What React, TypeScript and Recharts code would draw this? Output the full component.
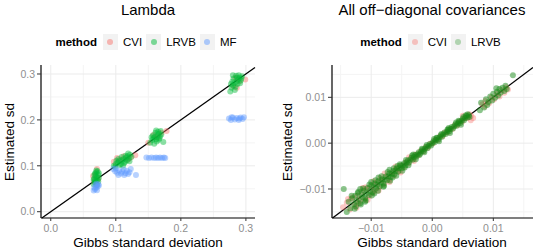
import React from 'react';
import { ScatterChart, Scatter, XAxis, YAxis, CartesianGrid, ReferenceLine } from 'recharts';

const FONT = '"Liberation Sans", Arial, Helvetica, sans-serif';

// ---------- Lambda panel data ----------
const lambdaCVI: [number, number][] = [
  [0.065, 0.078], [0.071, 0.093], [0.069, 0.082], [0.073, 0.071], [0.066, 0.066],
  [0.097, 0.109], [0.102, 0.117], [0.107, 0.113], [0.112, 0.121], [0.119, 0.114], [0.130, 0.123], [0.123, 0.118],
  [0.150, 0.150], [0.158, 0.167], [0.164, 0.162], [0.170, 0.172], [0.178, 0.176],
  [0.281, 0.274], [0.286, 0.270], [0.290, 0.284], [0.299, 0.288], [0.284, 0.292],
];
const lambdaLRVB: [number, number][] = [
  [0.066, 0.060], [0.068, 0.064], [0.070, 0.067], [0.072, 0.070], [0.067, 0.072], [0.071, 0.075], [0.069, 0.078],
  [0.073, 0.080], [0.068, 0.083], [0.070, 0.086], [0.072, 0.088], [0.066, 0.070], [0.074, 0.074], [0.069, 0.062],
  [0.071, 0.058], [0.073, 0.066], [0.067, 0.080], [0.070, 0.090], [0.074, 0.084], [0.068, 0.068],
  [0.097, 0.100], [0.100, 0.104], [0.103, 0.107], [0.105, 0.110], [0.108, 0.104], [0.110, 0.112], [0.112, 0.115],
  [0.114, 0.109], [0.116, 0.118], [0.118, 0.121], [0.120, 0.116], [0.122, 0.124], [0.119, 0.127], [0.115, 0.122],
  [0.109, 0.119], [0.106, 0.102], [0.101, 0.111], [0.113, 0.106], [0.117, 0.112], [0.121, 0.110], [0.111, 0.100],
  [0.104, 0.115], [0.124, 0.120], [0.099, 0.098],
  [0.153, 0.150], [0.156, 0.156], [0.158, 0.160], [0.160, 0.163], [0.162, 0.158], [0.164, 0.166], [0.166, 0.170],
  [0.168, 0.164], [0.165, 0.174], [0.161, 0.172], [0.157, 0.166], [0.163, 0.153], [0.167, 0.160], [0.170, 0.168],
  [0.159, 0.148], [0.155, 0.162], [0.169, 0.176], [0.173, 0.152], [0.162, 0.177], [0.166, 0.157],
  [0.276, 0.262], [0.278, 0.270], [0.280, 0.275], [0.282, 0.280], [0.284, 0.272], [0.286, 0.284], [0.288, 0.288],
  [0.290, 0.292], [0.292, 0.286], [0.294, 0.295], [0.279, 0.283], [0.281, 0.290], [0.285, 0.296], [0.287, 0.278],
  [0.289, 0.297], [0.291, 0.280], [0.277, 0.278], [0.283, 0.265], [0.293, 0.290], [0.286, 0.292], [0.280, 0.297],
];
const lambdaMF: [number, number][] = [
  [0.066, 0.046], [0.068, 0.049], [0.070, 0.052], [0.072, 0.055], [0.069, 0.058], [0.073, 0.060], [0.067, 0.053],
  [0.071, 0.047], [0.074, 0.057], [0.070, 0.061],
  [0.096, 0.093], [0.099, 0.088], [0.102, 0.085], [0.105, 0.090], [0.108, 0.083], [0.110, 0.087], [0.112, 0.092],
  [0.115, 0.084], [0.117, 0.089], [0.119, 0.082], [0.121, 0.086], [0.123, 0.093], [0.104, 0.080], [0.113, 0.080],
  [0.131, 0.080], [0.100, 0.094],
  [0.147, 0.118], [0.151, 0.117], [0.155, 0.118], [0.159, 0.117], [0.162, 0.118], [0.165, 0.117], [0.168, 0.118],
  [0.171, 0.117], [0.174, 0.118], [0.176, 0.117],
  [0.274, 0.203], [0.277, 0.200], [0.280, 0.205], [0.283, 0.201], [0.286, 0.204], [0.289, 0.200], [0.292, 0.205],
  [0.295, 0.202], [0.297, 0.206], [0.278, 0.206], [0.290, 0.203],
];

// ---------- Off-diagonal panel data ----------
const covCVI: [number, number][] = [
  [-0.0146, -0.0140], [-0.0140, -0.0130], [-0.0135, -0.0145], [-0.0130, -0.0118], [-0.0127, -0.0136],
  [-0.0122, -0.0114], [-0.0119, -0.0126], [-0.0115, -0.0106], [-0.0111, -0.0123], [-0.0107, -0.0100],
  [-0.0103, -0.0116], [-0.0099, -0.0094], [-0.0095, -0.0104], [-0.0091, -0.0086], [-0.0087, -0.0097],
  [-0.0083, -0.0080], [-0.0079, -0.0089], [-0.0075, -0.0072], [-0.0071, -0.0080], [-0.0067, -0.0064],
  [-0.0063, -0.0071], [-0.0059, -0.0057], [-0.0055, -0.0062], [-0.0051, -0.0049], [-0.0047, -0.0053],
  [-0.0043, -0.0041], [-0.0039, -0.0044], [-0.0035, -0.0033], [-0.0031, -0.0035], [-0.0027, -0.0025],
  [-0.0023, -0.0027], [-0.0019, -0.0017], [-0.0015, -0.0018], [-0.0011, -0.0009], [-0.0007, -0.0010],
  [-0.0003, -0.0001], [0.0001, -0.0001], [0.0005, 0.0007], [0.0009, 0.0007], [0.0013, 0.0015],
  [0.0017, 0.0015], [0.0021, 0.0023], [0.0025, 0.0023], [0.0029, 0.0031], [0.0033, 0.0031],
  [0.0037, 0.0039], [0.0041, 0.0039], [0.0045, 0.0047], [0.0049, 0.0047], [0.0053, 0.0055],
  [0.0057, 0.0055], [0.0061, 0.0063], [0.0063, 0.0050],
  [-0.0133, -0.0122], [-0.0121, -0.0131], [-0.0109, -0.0096], [-0.0097, -0.0108], [-0.0085, -0.0076],
  [-0.0138, -0.0122], [-0.0124, -0.0141], [-0.0114, -0.0098], [-0.0106, -0.0124], [-0.0096, -0.0083],
  [-0.0088, -0.0104], [-0.0078, -0.0066], [-0.0070, -0.0085], [-0.0060, -0.0051], [-0.0052, -0.0064],
  [-0.0038, -0.0031], [-0.0030, -0.0039], [0.0050, 0.0060], [0.0064, 0.0059], [0.0067, 0.0055],
  [0.0082, 0.0085], [0.0087, 0.0092], [0.0093, 0.0087], [0.0097, 0.0100], [0.0101, 0.0095], [0.0106, 0.0108],
  [0.0110, 0.0102], [0.0114, 0.0116], [0.0118, 0.0110], [0.0121, 0.0122], [0.0124, 0.0117], [0.0086, 0.0080],
];
const covLRVB: [number, number][] = [
  [-0.0145, -0.0100], [-0.0140, -0.0150], [-0.0137, -0.0128], [-0.0134, -0.0142], [-0.0131, -0.0120],
  [-0.0128, -0.0133], [-0.0126, -0.0115], [-0.0124, -0.0127], [-0.0122, -0.0109], [-0.0120, -0.0122],
  [-0.0118, -0.0131], [-0.0116, -0.0112], [-0.0114, -0.0118], [-0.0112, -0.0104], [-0.0110, -0.0121],
  [-0.0108, -0.0110], [-0.0106, -0.0098], [-0.0104, -0.0113], [-0.0102, -0.0104], [-0.0100, -0.0092],
  [-0.0098, -0.0107], [-0.0096, -0.0096], [-0.0094, -0.0088], [-0.0092, -0.0099], [-0.0090, -0.0091],
  [-0.0088, -0.0083], [-0.0086, -0.0094], [-0.0084, -0.0086], [-0.0082, -0.0079], [-0.0080, -0.0088],
  [-0.0078, -0.0080], [-0.0076, -0.0073], [-0.0074, -0.0081], [-0.0072, -0.0072], [-0.0070, -0.0066],
  [-0.0068, -0.0074], [-0.0066, -0.0067], [-0.0064, -0.0061], [-0.0062, -0.0068], [-0.0060, -0.0060],
  [-0.0058, -0.0055], [-0.0056, -0.0062], [-0.0054, -0.0054], [-0.0052, -0.0049], [-0.0050, -0.0055],
  [-0.0048, -0.0048], [-0.0046, -0.0044], [-0.0044, -0.0049], [-0.0042, -0.0042], [-0.0040, -0.0038],
  [-0.0038, -0.0042], [-0.0036, -0.0036], [-0.0034, -0.0032], [-0.0032, -0.0036], [-0.0030, -0.0030],
  [-0.0028, -0.0026], [-0.0026, -0.0029], [-0.0024, -0.0024], [-0.0022, -0.0020], [-0.0020, -0.0023],
  [-0.0018, -0.0018], [-0.0016, -0.0014], [-0.0014, -0.0017], [-0.0012, -0.0012], [-0.0010, -0.0008],
  [-0.0008, -0.0011], [-0.0006, -0.0006], [-0.0004, -0.0002], [-0.0002, -0.0005], [0.0000, 0.0000],
  [0.0002, 0.0004], [0.0004, 0.0002], [0.0006, 0.0007], [0.0008, 0.0011], [0.0010, 0.0008],
  [0.0012, 0.0013], [0.0014, 0.0017], [0.0016, 0.0014], [0.0018, 0.0019], [0.0020, 0.0023],
  [0.0022, 0.0020], [0.0024, 0.0025], [0.0026, 0.0029], [0.0028, 0.0026], [0.0030, 0.0031],
  [0.0032, 0.0035], [0.0034, 0.0032], [0.0036, 0.0037], [0.0038, 0.0041], [0.0040, 0.0038],
  [0.0042, 0.0043], [0.0044, 0.0047], [0.0046, 0.0044], [0.0048, 0.0049], [0.0050, 0.0053],
  [0.0052, 0.0050], [0.0054, 0.0055], [0.0056, 0.0059], [0.0058, 0.0056], [0.0060, 0.0061],
  [0.0058, 0.0063], [0.0055, 0.0061],
  [-0.0125, -0.0138], [-0.0118, -0.0100], [-0.0110, -0.0128], [-0.0100, -0.0085], [-0.0095, -0.0110],
  [-0.0088, -0.0075], [-0.0080, -0.0095], [-0.0070, -0.0058], [-0.0065, -0.0075],
  [-0.0057, -0.0050], [-0.0045, -0.0053], [-0.0033, -0.0027], [-0.0021, -0.0026], [-0.0009, -0.0004],
  [0.0003, 0.0009], [0.0015, 0.0020], [0.0027, 0.0033], [0.0039, 0.0045], [0.0051, 0.0057],
  [-0.0132, -0.0115], [-0.0127, -0.0143], [-0.0121, -0.0106], [-0.0117, -0.0134], [-0.0113, -0.0099],
  [-0.0109, -0.0125], [-0.0103, -0.0090], [-0.0099, -0.0114], [-0.0093, -0.0081], [-0.0089, -0.0104],
  [-0.0083, -0.0072], [-0.0079, -0.0093], [-0.0073, -0.0063], [-0.0069, -0.0082], [-0.0063, -0.0055],
  [-0.0059, -0.0071], [-0.0053, -0.0046], [-0.0049, -0.0060], [-0.0043, -0.0037], [-0.0039, -0.0048],
  [-0.0031, -0.0025], [-0.0027, -0.0035], [-0.0017, -0.0012], [-0.0013, -0.0020], [0.0007, 0.0012],
  [0.0011, 0.0004], [0.0025, 0.0030], [0.0029, 0.0022], [0.0043, 0.0049], [0.0047, 0.0040],
  [0.0061, 0.0057],
  [0.0080, 0.0088], [0.0085, 0.0078], [0.0088, 0.0096], [0.0092, 0.0090], [0.0095, 0.0102],
  [0.0098, 0.0093], [0.0100, 0.0108], [0.0103, 0.0099], [0.0106, 0.0112], [0.0108, 0.0104],
  [0.0110, 0.0118], [0.0112, 0.0110], [0.0115, 0.0121], [0.0118, 0.0114], [0.0120, 0.0125],
  [0.0122, 0.0118], [0.0132, 0.0148], [0.0078, 0.0072], [0.0090, 0.0083], [0.0105, 0.0120],
];

const lambdaXTicks = [0, 0.1, 0.2, 0.3];
const lambdaYTicks = [0, 0.1, 0.2, 0.3];
const lambdaMinor = [0.05, 0.15, 0.25];
const covTicks = [-0.01, 0, 0.01];
const covMinor = [-0.015, -0.005, 0.005, 0.015];

const COL_CVI = '#F8766D';
const COL_LRVB = '#00BA38';
const COL_MF = '#619CFF';
const COL_LRVB2 = '#188a18';

const toPts = (a: [number, number][]) => a.map(([x, y]) => ({ x, y }));

type Series = { name: string; data: [number, number][]; color: string; opacity: number };

function Panel(props: {
  left: number; width: number; yAxisWidth: number; rightMargin: number;
  xDomain: [number, number]; yDomain: [number, number];
  xTicks: number[]; yTicks: number[]; xMinor: number[]; yMinor: number[];
  fmt: (v: number) => string; series: Series[];
}) {
  const { left, width, yAxisWidth, rightMargin, xDomain, yDomain, xTicks, yTicks, xMinor, yMinor, fmt, series } = props;
  const lo = Math.max(xDomain[0], yDomain[0]);
  const hi = Math.min(xDomain[1], yDomain[1]);
  const tickStyle = { fill: '#8f8f8f', fontSize: 10.5, fontFamily: FONT };
  return (
    <div style={{ position: 'absolute', left, top: 0 }}>
      <ScatterChart width={width} height={251} margin={{ top: 65, right: rightMargin, bottom: 0, left: 0 }}>
        <CartesianGrid stroke="#f4f4f4" strokeWidth={1} horizontalValues={yMinor} verticalValues={xMinor} />
        <CartesianGrid stroke="#ebebeb" strokeWidth={1} horizontalValues={yTicks} verticalValues={xTicks} />
        <XAxis type="number" dataKey="x" domain={xDomain} ticks={xTicks} allowDataOverflow
          height={33} tickSize={3} tickMargin={4} tickFormatter={fmt}
          axisLine={{ stroke: '#000', strokeWidth: 1.2 }} tickLine={{ stroke: '#333' }} tick={tickStyle} />
        <YAxis type="number" dataKey="y" domain={yDomain} ticks={yTicks} allowDataOverflow
          width={yAxisWidth} tickSize={4} tickMargin={2} tickFormatter={fmt}
          axisLine={{ stroke: '#000', strokeWidth: 1.2 }} tickLine={{ stroke: '#333' }} tick={tickStyle} />
        {series.map((s) => (
          <Scatter key={s.name} name={s.name} data={toPts(s.data)} isAnimationActive={false}
            shape={(p: any) => <circle cx={p.cx} cy={p.cy} r={3} fill={s.color} fillOpacity={s.opacity} stroke="none" />} />
        ))}
        <ReferenceLine segment={[{ x: lo, y: lo }, { x: hi, y: hi }]} stroke="#000" strokeWidth={1.3} ifOverflow="visible" />
      </ScatterChart>
    </div>
  );
}

function Legend(props: { left: number; width: number; items: { label: string; color: string; opacity: number }[] }) {
  return (
    <div style={{ position: 'absolute', left: props.left, width: props.width, top: 33, height: 17, display: 'flex',
      justifyContent: 'center', alignItems: 'center', fontFamily: FONT, fontSize: 11.5, color: '#000' }}>
      <span style={{ fontWeight: 'bold', marginRight: 6 }}>method</span>
      {props.items.map((it) => (
        <span key={it.label} style={{ display: 'flex', alignItems: 'center', marginRight: 4 }}>
          <span style={{ width: 15, height: 16, background: '#f2f2f2', display: 'flex', alignItems: 'center', justifyContent: 'center', marginRight: 5 }}>
            <svg width={8} height={8}><circle cx={4} cy={4} r={3} fill={it.color} fillOpacity={it.opacity} /></svg>
          </span>
          <span>{it.label}</span>
        </span>
      ))}
    </div>
  );
}

function Text(props: { x: number; y: number; size: number; text: string; rotate?: boolean; spacing?: number; color?: string }) {
  return (
    <div style={{ position: 'absolute', left: props.x, top: props.y, whiteSpace: 'nowrap', fontFamily: FONT,
      fontSize: props.size, letterSpacing: props.spacing || 0, color: props.color || '#000', lineHeight: 1,
      transform: `translate(-50%, -50%)${props.rotate ? ' rotate(-90deg)' : ''}` }}>
      {props.text}
    </div>
  );
}

const fmtLambda = (v: number) => v.toFixed(1);
const fmtCov = (v: number) => (v < 0 ? '\u2212' + Math.abs(v).toFixed(2) : v.toFixed(2));
const TITLE_RIGHT = 'All off\u2212diagonal covariances';

export default function App() {
  return (
    <div style={{ position: 'absolute', left: 0, top: 0, width: 533, height: 251, background: '#fff', overflow: 'hidden' }}>
      <Text x={148} y={9} size={15} text="Lambda" />
      <Text x={432} y={9} size={15} text={TITLE_RIGHT} />
      <Legend left={41} width={214} items={[
        { label: 'CVI', color: COL_CVI, opacity: 0.5 },
        { label: 'LRVB', color: COL_LRVB, opacity: 0.5 },
        { label: 'MF', color: COL_MF, opacity: 0.5 },
      ]} />
      <Legend left={332} width={201} items={[
        { label: 'CVI', color: COL_CVI, opacity: 0.4 },
        { label: 'LRVB', color: COL_LRVB2, opacity: 0.3 },
      ]} />
      <Panel left={0} width={265} yAxisWidth={41} rightMargin={10}
        xDomain={[-0.015, 0.314]} yDomain={[-0.0137, 0.3196]}
        xTicks={lambdaXTicks} yTicks={lambdaYTicks} xMinor={lambdaMinor} yMinor={lambdaMinor}
        fmt={fmtLambda}
        series={[
          { name: 'CVI', data: lambdaCVI, color: COL_CVI, opacity: 0.45 },
          { name: 'LRVB', data: lambdaLRVB, color: COL_LRVB, opacity: 0.45 },
          { name: 'MF', data: lambdaMF, color: COL_MF, opacity: 0.45 },
        ]} />
      <Panel left={265} width={268} yAxisWidth={67} rightMargin={0}
        xDomain={[-0.01642, 0.0165]} yDomain={[-0.01633, 0.01705]}
        xTicks={covTicks} yTicks={covTicks} xMinor={covMinor} yMinor={covMinor}
        fmt={fmtCov}
        series={[
          { name: 'CVI', data: covCVI, color: COL_CVI, opacity: 0.4 },
          { name: 'LRVB', data: covLRVB, color: COL_LRVB2, opacity: 0.5 },
        ]} />
      <Text x={148} y={243} size={13.5} text="Gibbs standard deviation" />
      <Text x={432} y={243} size={13.5} text="Gibbs standard deviation" />
      <Text x={10} y={142} size={13.5} rotate text="Estimated sd" />
      <Text x={288} y={142} size={13.5} rotate text="Estimated sd" />
    </div>
  );
}
